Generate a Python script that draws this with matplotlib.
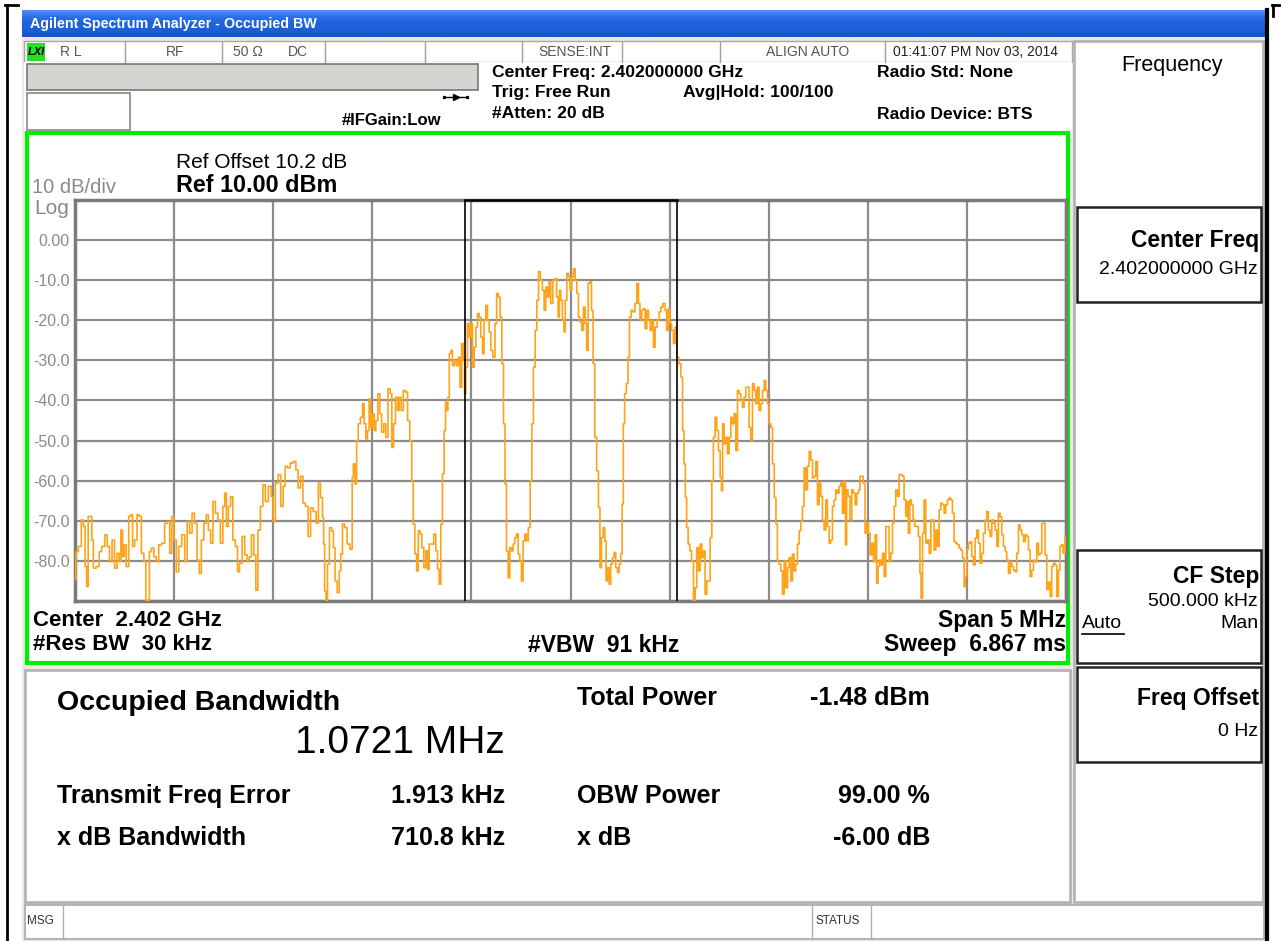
import numpy as np
import matplotlib
matplotlib.use('Agg')
import matplotlib.pyplot as plt
from matplotlib.patches import Rectangle

plt.rcParams['font.family'] = ['Liberation Sans', 'DejaVu Sans']

# trace: offset from centre (MHz), level (dBm)
freq_mhz = [
    -2.500, -2.491, -2.475, -2.461, -2.454, -2.444, -2.438, -2.429, -2.419, -2.411,
    -2.404, -2.382, -2.374, -2.357, -2.343, -2.332, -2.320, -2.306, -2.295, -2.281,
    -2.273, -2.264, -2.256, -2.248, -2.236, -2.222, -2.214, -2.205, -2.194, -2.180,
    -2.172, -2.158, -2.147, -2.138, -2.128, -2.121, -2.108, -2.096, -2.084, -2.071,
    -2.054, -2.041, -2.027, -2.017, -2.007, -1.995, -1.983, -1.970, -1.953, -1.940,
    -1.928, -1.916, -1.903, -1.891, -1.877, -1.869, -1.856, -1.844, -1.832, -1.822,
    -1.810, -1.798, -1.785, -1.773, -1.760, -1.748, -1.741, -1.731, -1.721, -1.709,
    -1.698, -1.684, -1.676, -1.664, -1.650, -1.637, -1.625, -1.617, -1.603, -1.592,
    -1.583, -1.571, -1.558, -1.546, -1.533, -1.516, -1.504, -1.496, -1.482, -1.469,
    -1.455, -1.445, -1.435, -1.422, -1.407, -1.390, -1.381, -1.368, -1.356, -1.344,
    -1.331, -1.317, -1.306, -1.289, -1.277, -1.267, -1.256, -1.247, -1.244, -1.237,
    -1.230, -1.222, -1.210, -1.200, -1.193, -1.183, -1.171, -1.163, -1.155, -1.146,
    -1.133, -1.121, -1.104, -1.099, -1.092, -1.082, -1.076, -1.066, -1.054, -1.045,
    -1.037, -1.028, -1.020, -1.012, -1.003, -0.995, -0.986, -0.978, -0.966, -0.958,
    -0.948, -0.936, -0.928, -0.914, -0.906, -0.897, -0.889, -0.877, -0.869, -0.860,
    -0.849, -0.838, -0.827, -0.817, -0.805, -0.797, -0.790, -0.780, -0.773, -0.763,
    -0.754, -0.746, -0.734, -0.726, -0.717, -0.709, -0.696, -0.684, -0.675, -0.667,
    -0.658, -0.650, -0.642, -0.633, -0.628, -0.622, -0.615, -0.608, -0.600, -0.591,
    -0.581, -0.571, -0.561, -0.554, -0.544, -0.537, -0.532, -0.524, -0.516, -0.507,
    -0.499, -0.490, -0.482, -0.473, -0.465, -0.457, -0.448, -0.440, -0.432, -0.423,
    -0.415, -0.406, -0.398, -0.386, -0.376, -0.369, -0.359, -0.351, -0.342, -0.334,
    -0.327, -0.319, -0.310, -0.302, -0.294, -0.285, -0.277, -0.268, -0.260, -0.252,
    -0.243, -0.235, -0.226, -0.218, -0.208, -0.199, -0.191, -0.183, -0.174, -0.166,
    -0.157, -0.147, -0.137, -0.129, -0.120, -0.112, -0.104, -0.095, -0.083, -0.073,
    -0.067, -0.058, -0.053, -0.045, -0.036, -0.030, -0.023, -0.014, -0.006, 0.002,
    0.011, 0.019, 0.028, 0.036, 0.044, 0.053, 0.061, 0.070, 0.078, 0.085,
    0.093, 0.102, 0.110, 0.118, 0.127, 0.137, 0.145, 0.152, 0.160, 0.169,
    0.177, 0.182, 0.191, 0.199, 0.207, 0.216, 0.224, 0.233, 0.241, 0.249,
    0.258, 0.263, 0.270, 0.276, 0.287, 0.293, 0.302, 0.310, 0.320, 0.330,
    0.339, 0.347, 0.354, 0.364, 0.372, 0.381, 0.389, 0.398, 0.406, 0.414,
    0.423, 0.431, 0.443, 0.451, 0.461, 0.472, 0.482, 0.488, 0.497, 0.505,
    0.515, 0.524, 0.532, 0.540, 0.552, 0.562, 0.569, 0.576, 0.583, 0.589,
    0.598, 0.606, 0.616, 0.625, 0.633, 0.641, 0.650, 0.658, 0.667, 0.675,
    0.683, 0.692, 0.700, 0.709, 0.717, 0.725, 0.734, 0.742, 0.751, 0.759,
    0.764, 0.771, 0.779, 0.788, 0.796, 0.805, 0.813, 0.821, 0.830, 0.838,
    0.847, 0.855, 0.863, 0.872, 0.880, 0.889, 0.897, 0.905, 0.914, 0.922,
    0.931, 0.939, 0.947, 0.956, 0.964, 0.973, 0.981, 0.990, 0.998, 1.006,
    1.015, 1.023, 1.033, 1.040, 1.048, 1.057, 1.065, 1.074, 1.082, 1.091,
    1.099, 1.107, 1.116, 1.124, 1.132, 1.141, 1.149, 1.158, 1.166, 1.174,
    1.183, 1.191, 1.200, 1.208, 1.217, 1.225, 1.233, 1.242, 1.250, 1.259,
    1.267, 1.275, 1.284, 1.292, 1.301, 1.309, 1.317, 1.326, 1.334, 1.343,
    1.351, 1.359, 1.368, 1.376, 1.385, 1.390, 1.396, 1.405, 1.415, 1.423,
    1.432, 1.440, 1.449, 1.457, 1.464, 1.472, 1.481, 1.491, 1.499, 1.507,
    1.516, 1.524, 1.533, 1.541, 1.548, 1.555, 1.561, 1.570, 1.578, 1.587,
    1.595, 1.603, 1.612, 1.620, 1.629, 1.637, 1.645, 1.654, 1.662, 1.671,
    1.679, 1.687, 1.696, 1.701, 1.708, 1.716, 1.724, 1.733, 1.741, 1.750,
    1.760, 1.766, 1.772, 1.780, 1.788, 1.797, 1.805, 1.814, 1.822, 1.830,
    1.839, 1.847, 1.856, 1.864, 1.872, 1.881, 1.889, 1.898, 1.906, 1.914,
    1.923, 1.931, 1.940, 1.948, 1.957, 1.965, 1.973, 1.982, 1.990, 1.995,
    2.004, 2.012, 2.020, 2.029, 2.037, 2.046, 2.054, 2.062, 2.071, 2.079,
    2.088, 2.096, 2.104, 2.113, 2.121, 2.130, 2.138, 2.147, 2.155, 2.163,
    2.172, 2.180, 2.189, 2.197, 2.205, 2.214, 2.222, 2.231, 2.239, 2.247,
    2.256, 2.264, 2.273, 2.281, 2.290, 2.298, 2.306, 2.315, 2.323, 2.332,
    2.340, 2.348, 2.357, 2.365, 2.374, 2.382, 2.390, 2.399, 2.407, 2.416,
    2.424, 2.432, 2.441, 2.449, 2.458, 2.466, 2.473, 2.481, 2.490, 2.500,
]
level_dbm = [
    -84.7, -77.7, -76.4, -69.8, -71.4, -81.4, -86.4, -68.9, -68.9,
    -74.8, -81.8, -81.4, -77.7, -76.4, -73.5, -76.4, -80.2, -74.8, -81.8,
    -78.1, -80.2, -72.3, -78.9, -76.0, -81.4, -68.9, -68.5, -76.4, -74.8,
    -68.5, -68.9, -78.1, -80.2, -90.0, -89.8, -77.7, -76.8, -79.0, -80.2,
    -76.0, -75.6, -70.6, -70.2, -78.1, -68.9, -74.8, -82.7, -76.4, -73.5,
    -80.2, -70.2, -73.1, -68.1, -70.6, -79.8, -83.1, -74.8, -70.6, -68.5,
    -72.3, -75.6, -65.2, -68.1, -69.8, -75.6, -66.4, -63.1, -71.4, -66.4,
    -64.0, -74.8, -76.4, -82.7, -80.6, -73.9, -78.5, -80.2, -79.0, -73.5,
    -78.5, -87.3, -72.3, -66.4, -61.0, -65.2, -61.4, -63.9, -70.2, -60.6,
    -58.5, -66.4, -61.4, -56.4, -56.8, -55.6, -55.2, -57.3, -61.8, -58.9,
    -65.6, -66.4, -73.9, -66.8, -67.7, -70.6, -60.6, -64.2, -69.2, -75.8,
    -87.5, -90.0, -80.8, -71.7, -72.5, -76.7, -85.0, -87.9, -82.5, -78.3,
    -70.8, -71.7, -75.8, -77.1, -59.2, -55.8, -60.8, -50.0, -45.8, -44.2,
    -40.8, -45.8, -49.6, -47.5, -39.6, -46.7, -43.3, -47.5, -45.0, -38.3,
    -43.3, -47.9, -45.8, -49.2, -37.1, -38.3, -51.7, -45.8, -39.2, -42.5,
    -39.2, -42.5, -37.5, -37.9, -45.0, -50.0, -60.0, -70.8, -78.3, -82.5,
    -72.5, -73.3, -76.7, -81.7, -77.5, -82.1, -75.8, -75.8, -73.3, -77.5,
    -82.1, -85.8, -70.8, -58.3, -47.5, -40.4, -42.5, -39.2, -28.3, -27.5,
    -31.3, -30.0, -31.3, -29.2, -36.7, -25.8, -30.0, -38.3, -31.7, -20.8,
    -24.2, -20.8, -31.7, -26.7, -21.7, -18.3, -19.2, -24.2, -28.3, -20.0,
    -16.3, -20.0, -22.9, -27.5, -29.2, -20.8, -13.3, -14.2, -19.2, -30.8,
    -45.8, -60.8, -77.5, -84.2, -76.7, -77.5, -75.8, -74.2, -73.3, -78.3,
    -80.0, -85.0, -75.0, -73.3, -75.0, -71.7, -60.0, -45.8, -31.7, -22.5,
    -15.0, -7.9, -10.0, -12.5, -17.5, -11.7, -14.2, -10.4, -15.8, -10.0,
    -9.6, -14.2, -19.2, -12.5, -15.0, -20.0, -22.9, -15.0, -8.3, -9.2,
    -12.5, -9.2, -7.1, -10.0, -13.3, -19.2, -20.4, -22.5, -16.7, -20.8,
    -27.5, -10.8, -10.4, -17.5, -30.8, -49.2, -57.5, -66.7, -81.7, -74.2,
    -71.7, -75.0, -85.0, -81.7, -85.8, -80.8, -79.2, -77.9, -81.7, -82.9,
    -80.8, -78.3, -65.8, -45.8, -38.3, -35.8, -29.2, -19.2, -17.5, -17.9,
    -15.8, -10.8, -15.8, -20.0, -17.5, -17.1, -22.1, -17.5, -20.0, -22.5,
    -20.0, -26.7, -21.7, -20.0, -17.9, -16.7, -15.8, -17.5, -22.5, -17.1,
    -20.8, -22.5, -25.8, -21.7, -29.2, -30.8, -34.2, -47.5, -55.8, -64.2,
    -71.7, -75.8, -77.5, -80.0, -90.0, -86.7, -76.7, -82.5, -75.8, -79.2,
    -77.5, -88.3, -85.0, -85.0, -74.2, -60.0, -49.2, -44.2, -47.5, -52.5,
    -59.2, -62.5, -45.8, -50.8, -49.2, -53.3, -49.2, -44.2, -45.8, -43.3,
    -52.5, -37.5, -38.3, -40.0, -41.7, -39.2, -36.7, -36.7, -46.7, -50.0,
    -35.8, -37.5, -40.8, -36.7, -42.5, -40.8, -37.5, -35.0, -37.5, -40.8,
    -45.8, -46.7, -55.8, -64.2, -70.8, -80.0, -80.8, -82.5, -88.3, -80.0,
    -86.7, -81.7, -79.2, -85.0, -78.3, -82.5, -80.8, -75.8, -72.5, -70.2,
    -66.4, -56.8, -62.3, -56.4, -52.7, -54.8, -59.3, -58.9, -55.2, -66.0,
    -60.6, -63.9, -69.8, -72.3, -64.8, -71.4, -75.6, -74.8, -66.4, -64.8,
    -62.3, -63.1, -61.4, -60.6, -68.1, -60.2, -76.0, -62.3, -63.9, -69.8,
    -62.3, -63.1, -66.0, -63.1, -62.3, -58.9, -58.9, -60.6, -73.1, -70.6,
    -73.1, -78.5, -75.6, -80.2, -73.5, -85.6, -81.4, -79.8, -81.0, -78.1,
    -83.9, -71.4, -71.4, -80.2, -78.1, -70.6, -66.4, -62.3, -63.9, -58.5,
    -58.5, -58.9, -64.8, -68.9, -65.2, -73.1, -64.8, -66.0, -69.8, -71.4,
    -71.4, -73.9, -83.1, -89.3, -73.1, -64.8, -75.6, -74.8, -78.1, -69.8,
    -69.8, -77.3, -72.3, -76.4, -67.3, -65.6, -66.0, -68.1, -66.0, -64.8,
    -64.3, -64.8, -68.1, -75.2, -75.6, -76.0, -76.8, -77.3, -79.3, -86.4,
    -83.9, -77.1, -75.6, -75.2, -78.9, -81.0, -74.3, -72.3, -75.6, -80.6,
    -78.1, -73.1, -69.8, -67.7, -72.3, -73.9, -69.8, -70.6, -72.3, -76.4,
    -68.1, -69.0, -73.5, -76.4, -77.7, -79.8, -83.1, -80.2, -81.4, -82.3,
    -82.7, -78.1, -71.0, -72.3, -73.5, -75.2, -73.5, -73.9, -77.3, -83.9,
    -82.3, -79.8, -80.2, -75.6, -78.5, -78.1, -70.6, -70.6, -78.5, -87.1,
    -85.3, -88.9, -81.4, -80.6, -81.0, -88.9, -82.3, -76.4, -76.0, -78.1,
    -73.9,
]
y_ticks = [10, 0, -10, -20, -30, -40, -50, -60, -70, -80, -90]
y_tick_labels = ['', '0.00', '-10.0', '-20.0', '-30.0', '-40.0', '-50.0',
                 '-60.0', '-70.0', '-80.0', '']

# measurement results
obw_mhz = 1.0721
freq_err_khz = 1.913
ref_level = 10.0
span_mhz = 5.0

W, H = 1281, 941
fig = plt.figure(figsize=(W / 100, H / 100), dpi=100)
bg = fig.add_axes([0, 0, 1, 1])
bg.axis('off')


def box(x0, y0, x1, y1, fc='white', ec='none', lw=1.0, z=1):
    bg.add_patch(Rectangle((x0, y0), x1 - x0, y1 - y0, facecolor=fc,
                           edgecolor=ec, linewidth=lw, zorder=z))


def txt(x, y, s, size=12, ha='left', weight='normal', color='black', **kw):
    bg.text(x, y, s, fontsize=size, ha=ha, va='center', fontweight=weight,
            color=color, zorder=5, **kw)


def vline(x, y0, y1, color='#a0a0a0', lw=1.0, z=2):
    bg.plot([x, x], [y0, y1], color=color, lw=lw, zorder=z)


# window background + frame
box(22, 10, 1268, 941, fc='#ece9e2')
bg.plot([7, 7], [5, 941], color='black', lw=2, zorder=6)
bg.plot([5, 18], [5, 5], color='black', lw=2, zorder=6)
bg.plot([1267, 1267], [10, 941], color='black', lw=3, zorder=6)
bg.plot([1272, 1281], [5, 5], color='black', lw=2, zorder=6)
bg.plot([1273, 1273], [5, 16], color='black', lw=2, zorder=6)

# title bar
grad = np.linspace(0, 1, 27).reshape(-1, 1)
cmap = matplotlib.colors.LinearSegmentedColormap.from_list(
    'xp', ['#4f8ff7', '#2a6fe6', '#1f63dc', '#1d5fd6', '#1a55c4'])
bg.imshow(grad, cmap=cmap, extent=[22, 1266, 37, 10], aspect='auto', zorder=2)
txt(30, 24, 'Agilent Spectrum Analyzer - Occupied BW', size=10.3,
    weight='bold', color='white')

# status row
box(24, 41, 1072, 62, fc='white', ec='#a8a8a8', lw=1)
box(27, 43, 45, 61, fc='#22e022', z=3)
txt(28, 52, 'LXI', size=8, weight='bold', style='italic')
for sx in [125, 222, 325, 425, 522, 622, 720, 885]:
    vline(sx, 42, 62)
st_col = '#555555'
txt(60, 52, 'R L', size=10, color=st_col)
txt(175, 52, 'RF', size=10, color=st_col, ha='center')
txt(233, 52, '50 Ω', size=10, color=st_col)
txt(288, 52, 'DC', size=10, color=st_col)
txt(575, 52, 'SENSE:INT', size=10, color=st_col, ha='center')
txt(808, 52, 'ALIGN AUTO', size=10, color=st_col, ha='center')
txt(893, 52, '01:41:07 PM Nov 03, 2014', size=10, color='#222222')

# header area
box(24, 62, 1072, 133, fc='white')
box(27, 64, 478, 90, fc='#d6d4d0', ec='#777777', lw=1.2, z=2)
box(27, 93, 130, 130, fc='white', ec='#888888', lw=1.2, z=2)
bg.plot([444, 467], [97, 97], color='black', lw=1, zorder=3)
bg.plot([456], [97], marker='>', color='black', ms=4, zorder=3)
bg.plot([444, 467], [97, 97], 'o', color='black', ms=1.5, zorder=3)
txt(342, 120, '#IFGain:Low', size=12, weight='bold')
txt(492, 72, 'Center Freq: 2.402000000 GHz', size=12.6, weight='bold')
txt(492, 92, 'Trig: Free Run', size=12.6, weight='bold')
txt(683, 92, 'Avg|Hold: 100/100', size=12.6, weight='bold')
txt(492, 113, '#Atten: 20 dB', size=12.6, weight='bold')
txt(877, 72, 'Radio Std: None', size=12.6, weight='bold')
txt(877, 114, 'Radio Device: BTS', size=12.6, weight='bold')

# green trace panel
box(27, 133, 1068, 663, fc='white', ec='#00ee00', lw=3, z=2)
txt(176, 162, 'Ref Offset 10.2 dB', size=15)
txt(176, 185, 'Ref 10.00 dBm', size=16.8, weight='bold')
txt(32, 187, '10 dB/div', size=14.5, color='#8a8a8a')
txt(34, 208, 'Log', size=15, color='#8a8a8a')
txt(33, 620, 'Center  2.402 GHz', size=16, weight='bold')
txt(33, 645, '#Res BW  30 kHz', size=16, weight='bold')
txt(528, 645, '#VBW  91 kHz', size=16.5, weight='bold')
txt(1066, 620, 'Span 5 MHz', size=16.5, weight='bold', ha='right')
txt(1066, 645, 'Sweep  6.867 ms', size=16.5, weight='bold', ha='right')

# result panel
box(25, 670, 1070, 902, fc='white', ec='#b5b5b5', lw=2)
txt(57, 703, 'Occupied Bandwidth', size=20.5, weight='bold')
txt(505, 743, f'{obw_mhz:.4f} MHz', size=28, ha='right')
txt(577, 698, 'Total Power', size=18, weight='bold')
txt(930, 698, '-1.48 dBm', size=18, weight='bold', ha='right')
txt(57, 796, 'Transmit Freq Error', size=18, weight='bold')
txt(505, 796, f'{freq_err_khz:.3f} kHz', size=18, weight='bold', ha='right')
txt(577, 796, 'OBW Power', size=18, weight='bold')
txt(930, 796, '99.00 %', size=18, weight='bold', ha='right')
txt(57, 838, 'x dB Bandwidth', size=18, weight='bold')
txt(505, 838, '710.8 kHz', size=18, weight='bold', ha='right')
txt(577, 838, 'x dB', size=18, weight='bold')
txt(930, 838, '-6.00 dB', size=18, weight='bold', ha='right')

# status bar
box(25, 905, 1264, 939, fc='white', ec='#b5b5b5', lw=1.5)
vline(63, 905, 939, color='#b0b0b0')
vline(812, 905, 939, color='#b0b0b0')
vline(871, 905, 939, color='#b0b0b0')
txt(27, 921, 'MSG', size=8.5, color='#333333')
txt(815, 921, 'STATUS', size=8.5, color='#333333')

# softkey panel
box(1074, 41, 1263, 902, fc='white', ec='#b5b5b5', lw=2)
txt(1172, 65, 'Frequency', size=15.5, ha='center')
box(1077, 207, 1261, 302, fc='white', ec='#222222', lw=1.8, z=2)
txt(1259, 240, 'Center Freq', size=16.5, weight='bold', ha='right')
txt(1258, 270, '2.402000000 GHz', size=14, ha='right')
box(1077, 550, 1261, 663, fc='white', ec='#222222', lw=1.8, z=2)
txt(1259, 577, 'CF Step', size=16.5, weight='bold', ha='right')
txt(1258, 602, '500.000 kHz', size=14, ha='right')
txt(1082, 624, 'Auto', size=14)
bg.plot([1082, 1124], [634, 634], color='black', lw=1.2, zorder=5)
txt(1258, 624, 'Man', size=14, ha='right')
box(1077, 667, 1261, 762, fc='white', ec='#222222', lw=1.8, z=2)
txt(1259, 698, 'Freq Offset', size=16.5, weight='bold', ha='right')
txt(1258, 731, '0 Hz', size=14, ha='right')

bg.set_xlim(0, W)
bg.set_ylim(H, 0)

# trace axes
ax = fig.add_axes([75 / W, 1 - 601 / H, 991 / W, 401 / H])
ax.set_xlim(-span_mhz / 2, span_mhz / 2)
ax.set_ylim(-90, ref_level)
ax.set_xticks(np.arange(-2.5, 2.51, 0.5))
ax.set_yticks(y_ticks)
ax.set_yticklabels(y_tick_labels)
ax.tick_params(length=0, labelbottom=False, labelsize=11.5,
               labelcolor='#8a8a8a', pad=4)
ax.grid(color='#8c8c8c', lw=1.6)
ax.set_axisbelow(True)
for sp in ax.spines.values():
    sp.set_color('#7a7a7a')
    sp.set_linewidth(2.5)

ax.plot(freq_mhz, level_dbm, color='#ffa31a', lw=1.2, drawstyle='steps-mid',
        zorder=3, clip_on=True)

# occupied bandwidth markers
lo = freq_err_khz / 1000 - obw_mhz / 2
hi = freq_err_khz / 1000 + obw_mhz / 2
for f in (lo, hi):
    ax.axvline(f, color='black', lw=1.2, zorder=4)
ax.plot([lo, hi], [ref_level, ref_level], color='black', lw=1.8, zorder=5,
        clip_on=False)

fig.savefig('out.png', dpi=100)
